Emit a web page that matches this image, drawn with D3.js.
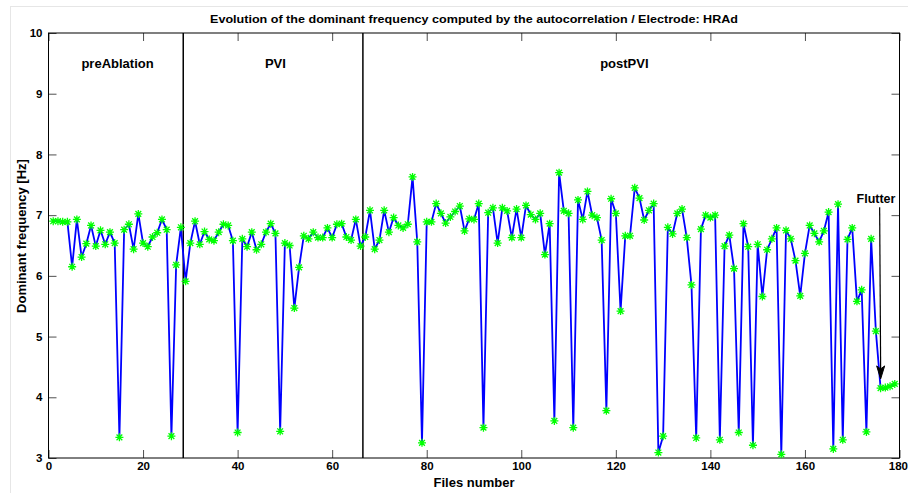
<!DOCTYPE html>
<html>
<head>
<meta charset="utf-8">
<script src="https://cdn.jsdelivr.net/npm/d3@7/dist/d3.min.js"></script>
<style>
  html, body { margin: 0; padding: 0; background: #fff; }
  svg { display: block; font-family: "Liberation Sans", Arial, sans-serif; }
</style>
</head>
<body>
<svg id="chart" width="908" height="493"></svg>
<script>
// ---- data ----
const titleText = "Evolution of the dominant frequency computed by the autocorrelation / Electrode: HRAd";
const xLabel = "Files number";
const yLabel = "Dominant frequency [Hz]";
const xTicks = [0, 20, 40, 60, 80, 100, 120, 140, 160, 180];
const yTicks = [3, 4, 5, 6, 7, 8, 9, 10];
const phaseBounds = [28.5, 66.5];
const phaseNames = ["preAblation", "PVI", "postPVI"];
const phaseCenters = [14.6, 48.0, 121.8];
const freq = [
  6.90, 6.90, 6.89, 6.89, 6.15, 6.93, 6.31, 6.53, 6.83, 6.49,
  6.75, 6.52, 6.72, 6.54, 3.34, 6.76, 6.85, 6.44, 7.02, 6.54,
  6.48, 6.64, 6.71, 6.93, 6.76, 3.36, 6.18, 6.80, 5.91, 6.54,
  6.90, 6.52, 6.73, 6.60, 6.58, 6.72, 6.85, 6.83, 6.58, 3.42,
  6.61, 6.48, 6.72, 6.43, 6.52, 6.72, 6.86, 6.70, 3.44, 6.54,
  6.50, 5.47, 6.14, 6.66, 6.61, 6.72, 6.63, 6.63, 6.79, 6.63,
  6.85, 6.86, 6.64, 6.59, 6.93, 6.49, 6.64, 7.08, 6.44, 6.59,
  7.08, 6.72, 6.96, 6.83, 6.79, 6.85, 7.63, 6.56, 3.25, 6.89,
  6.89, 7.19, 7.03, 6.87, 6.97, 7.06, 7.15, 6.74, 6.94, 6.93,
  7.19, 3.50, 7.04, 7.12, 6.54, 7.12, 7.07, 6.63, 7.10, 6.63,
  7.16, 7.01, 6.93, 7.03, 6.35, 6.86, 3.61, 7.70, 7.07, 7.03,
  3.50, 7.25, 6.93, 7.39, 7.00, 6.96, 6.59, 3.78, 7.27, 7.03,
  5.42, 6.66, 6.66, 7.45, 7.28, 6.92, 7.08, 7.19, 3.09, 3.36,
  6.80, 6.69, 7.03, 7.10, 6.63, 5.85, 3.33, 6.77, 7.00, 6.96,
  7.00, 3.30, 6.49, 6.67, 6.12, 3.42, 6.86, 6.48, 3.21, 6.52,
  5.66, 6.43, 6.61, 6.79, 3.06, 6.75, 6.61, 6.25, 5.67, 6.37,
  6.83, 6.70, 6.56, 6.74, 7.05, 3.15, 7.18, 3.30, 6.60, 6.79,
  5.58, 5.77, 3.43, 6.61, 5.09, 4.15, 4.16, 4.18, 4.22
];
const flutterLabel = "Flutter";
const flutterArrow = {x: 175.8, yFrom: 7.13, yTo: 4.22};

// ---- layout ----
const svg = d3.select("#chart");
const L = 48.5, R = 899.5, T = 33, B = 458;
const x = d3.scaleLinear().domain([0, 180]).range([L, R]);
const y = d3.scaleLinear().domain([3, 10]).range([B, T]);
const pts = freq.map((v, i) => ({f: i + 1, v}));

// faint outer frame
svg.append("rect").attr("x", 10.5).attr("y", 6.5).attr("width", 910).attr("height", 500)
  .attr("fill", "none").attr("stroke", "#e6e6e6");

// title
svg.append("text").attr("x", 474).attr("y", 23).attr("text-anchor", "middle")
  .attr("font-size", 11.5).attr("font-weight", "bold").attr("textLength", 528)
  .attr("lengthAdjust", "spacingAndGlyphs").text(titleText);

// axes (MATLAB-style, ticks inside)
const tl = 8;
const fmt = d3.format("d");
const axB = d3.axisBottom(x).tickValues(xTicks).tickFormat(fmt).tickSizeInner(-tl).tickSizeOuter(0).tickPadding(4);
const axT = d3.axisTop(x).tickValues(xTicks).tickSizeInner(-tl).tickSizeOuter(0).tickFormat("");
const axLft = d3.axisLeft(y).tickValues(yTicks).tickFormat(fmt).tickSizeInner(-tl).tickSizeOuter(0).tickPadding(6);
const axRt = d3.axisRight(y).tickValues(yTicks).tickSizeInner(-tl).tickSizeOuter(0).tickFormat("");

function styleAxis(g) {
  g.select(".domain").remove();
  g.selectAll(".tick line").attr("stroke", "#222").attr("stroke-width", 0.8);
  g.selectAll("text").attr("font-size", 11.5).attr("font-weight", "bold")
    .attr("font-family", "'Liberation Sans', Arial, sans-serif").attr("fill", "#000");
}
const gB = svg.append("g").attr("transform", `translate(0,${B})`).call(axB).call(styleAxis);
// keep the last tick label inside the page
gB.selectAll(".tick text").filter(d => d === xTicks[xTicks.length - 1])
  .attr("text-anchor", "end").attr("dx", 8);
svg.append("g").attr("transform", `translate(0,${T})`).call(axT).call(styleAxis);
svg.append("g").attr("transform", `translate(${L},0)`).call(axLft).call(styleAxis);
svg.append("g").attr("transform", `translate(${R},0)`).call(axRt).call(styleAxis);

// box
svg.append("rect").attr("x", L).attr("y", T).attr("width", R - L).attr("height", B - T)
  .attr("fill", "none").attr("stroke", "#000").attr("stroke-width", 1);

// axis labels
svg.append("text").attr("x", 474).attr("y", 487).attr("text-anchor", "middle")
  .attr("font-size", 13).attr("font-weight", "bold").text(xLabel);
svg.append("text").attr("transform", `translate(26,236) rotate(-90)`)
  .attr("text-anchor", "middle").attr("font-size", 13).attr("font-weight", "bold").text(yLabel);

// phase boundaries
svg.selectAll("line.phase").data(phaseBounds).enter().append("line")
  .attr("x1", d => x(d)).attr("x2", d => x(d)).attr("y1", T).attr("y2", B)
  .attr("stroke", "#000").attr("stroke-width", 1.5);
svg.selectAll("text.phase").data(phaseNames).enter().append("text")
  .attr("x", (d, i) => x(phaseCenters[i])).attr("y", 68).attr("text-anchor", "middle")
  .attr("font-size", 13).attr("font-weight", "bold").text(d => d);

// line
const line = d3.line().x(d => x(d.f)).y(d => y(d.v));
svg.append("path").datum(pts).attr("d", line).attr("fill", "none")
  .attr("stroke", "#0000ff").attr("stroke-width", 1.8).attr("stroke-linejoin", "round");

// asterisk markers
const s = 4;
const star = `M${-s},0L${s},0M0,${-s}L0,${s}M${-s*0.72},${-s*0.72}L${s*0.72},${s*0.72}M${-s*0.72},${s*0.72}L${s*0.72},${-s*0.72}`;
svg.append("g").selectAll("path").data(pts).enter().append("path")
  .attr("transform", d => `translate(${x(d.f)},${y(d.v)})`)
  .attr("d", star).attr("stroke", "#00ff00").attr("stroke-width", 1.3).attr("fill", "none");

// flutter annotation
svg.append("text").attr("x", 876).attr("y", 203).attr("text-anchor", "middle")
  .attr("font-size", 12.5).attr("font-weight", "bold").text(flutterLabel);
const ax = x(flutterArrow.x), ay1 = y(flutterArrow.yFrom), ay2 = y(flutterArrow.yTo) - 5;
svg.append("line").attr("x1", ax).attr("x2", ax + 1).attr("y1", ay1).attr("y2", ay2 - 10)
  .attr("stroke", "#000").attr("stroke-width", 1.2);
svg.append("path")
  .attr("d", `M${ax + 1},${ay2}L${ax - 3},${ay2 - 13}L${ax + 1},${ay2 - 10}L${ax + 5},${ay2 - 13}Z`)
  .attr("fill", "#000").attr("stroke", "#000").attr("stroke-width", 1);
</script>
</body>
</html>
